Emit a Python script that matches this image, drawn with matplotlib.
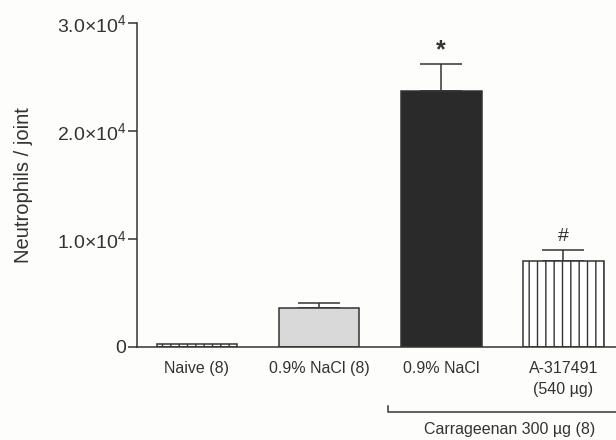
import numpy as np
import matplotlib.pyplot as plt

plt.rcParams['font.family'] = ['Liberation Sans', 'DejaVu Sans']
plt.rcParams['mathtext.fontset'] = 'custom'
plt.rcParams['mathtext.rm'] = 'Liberation Sans'
plt.rcParams['mathtext.it'] = 'Liberation Sans:italic'
plt.rcParams['hatch.linewidth'] = 1.0

groups = ['Naive (8)', '0.9% NaCl (8)', '0.9% NaCl', 'A-317491\n(540 µg)']
means = [250, 3600, 23700, 8000]
sems = [0, 430, 2500, 1000]
marks = ['', '', '*', '#']

ink = '#333333'
fills = ['white', '#d9d9d9', '#2a2a2a', 'white']
hatches = ['||', None, None, '||']

fig = plt.figure(figsize=(6.16, 4.4), dpi=100)
fig.patch.set_facecolor('#fdfdfc')
ax = fig.add_axes([0.2224, 0.2114, 0.7776, 0.7363])
ax.set_facecolor('#fdfdfc')

x = np.arange(len(groups))
bars = ax.bar(x, means, width=0.66, color=fills, edgecolor=ink, linewidth=1.1, zorder=2)
for b, h in zip(bars, hatches):
    if h:
        b.set_hatch(h)

# upper error bars only
for xi, m, s in zip(x, means, sems):
    if s > 0:
        ax.errorbar(xi, m, yerr=[[0], [s]], fmt='none', ecolor=ink,
                    elinewidth=1.1, capsize=14.8, capthick=1.1, zorder=1)

for xi, m, s, t in zip(x, means, sems, marks):
    if t == '*':
        ax.text(xi, m + s + 1250, t, ha='center', va='center',
                fontsize=18, fontweight='bold', color=ink)
    elif t:
        ax.text(xi, m + s + 1250, t, ha='center', va='center',
                fontsize=14, color=ink)

ax.set_xlim(-0.49, 3.43)
ax.set_ylim(0, 30000)
ax.set_yticks([0, 10000, 20000, 30000])
ax.set_yticklabels(['0', r'$1.0{\times}10^4$', r'$2.0{\times}10^4$', r'$3.0{\times}10^4$'])
ax.set_xticks(x)
ax.set_xticklabels(groups, fontsize=11.5, color=ink, linespacing=1.5)
ax.tick_params(axis='x', length=0, pad=10)
ax.tick_params(axis='y', length=6.5, width=1.1, color=ink, labelsize=14,
               labelcolor=ink, pad=1)
ax.set_ylabel('Neutrophils / joint', fontsize=14.5, color=ink)
ax.yaxis.set_label_coords(-0.218, 0.5)

for side in ['top', 'right']:
    ax.spines[side].set_visible(False)
for side in ['left', 'bottom']:
    ax.spines[side].set_color(ink)
    ax.spines[side].set_linewidth(1.1)

# bracket for the carrageenan groups
tr = ax.get_xaxis_transform()
ax.plot([1.566, 1.566, 3.43], [-0.182, -0.2, -0.2], color=ink, lw=1.1,
        transform=tr, clip_on=False)
ax.text(2.557, -0.256, 'Carrageenan 300 µg (8)', ha='center', va='center',
        fontsize=11.5, color=ink, transform=tr)

fig.savefig('out.png', dpi=100, facecolor=fig.get_facecolor())
